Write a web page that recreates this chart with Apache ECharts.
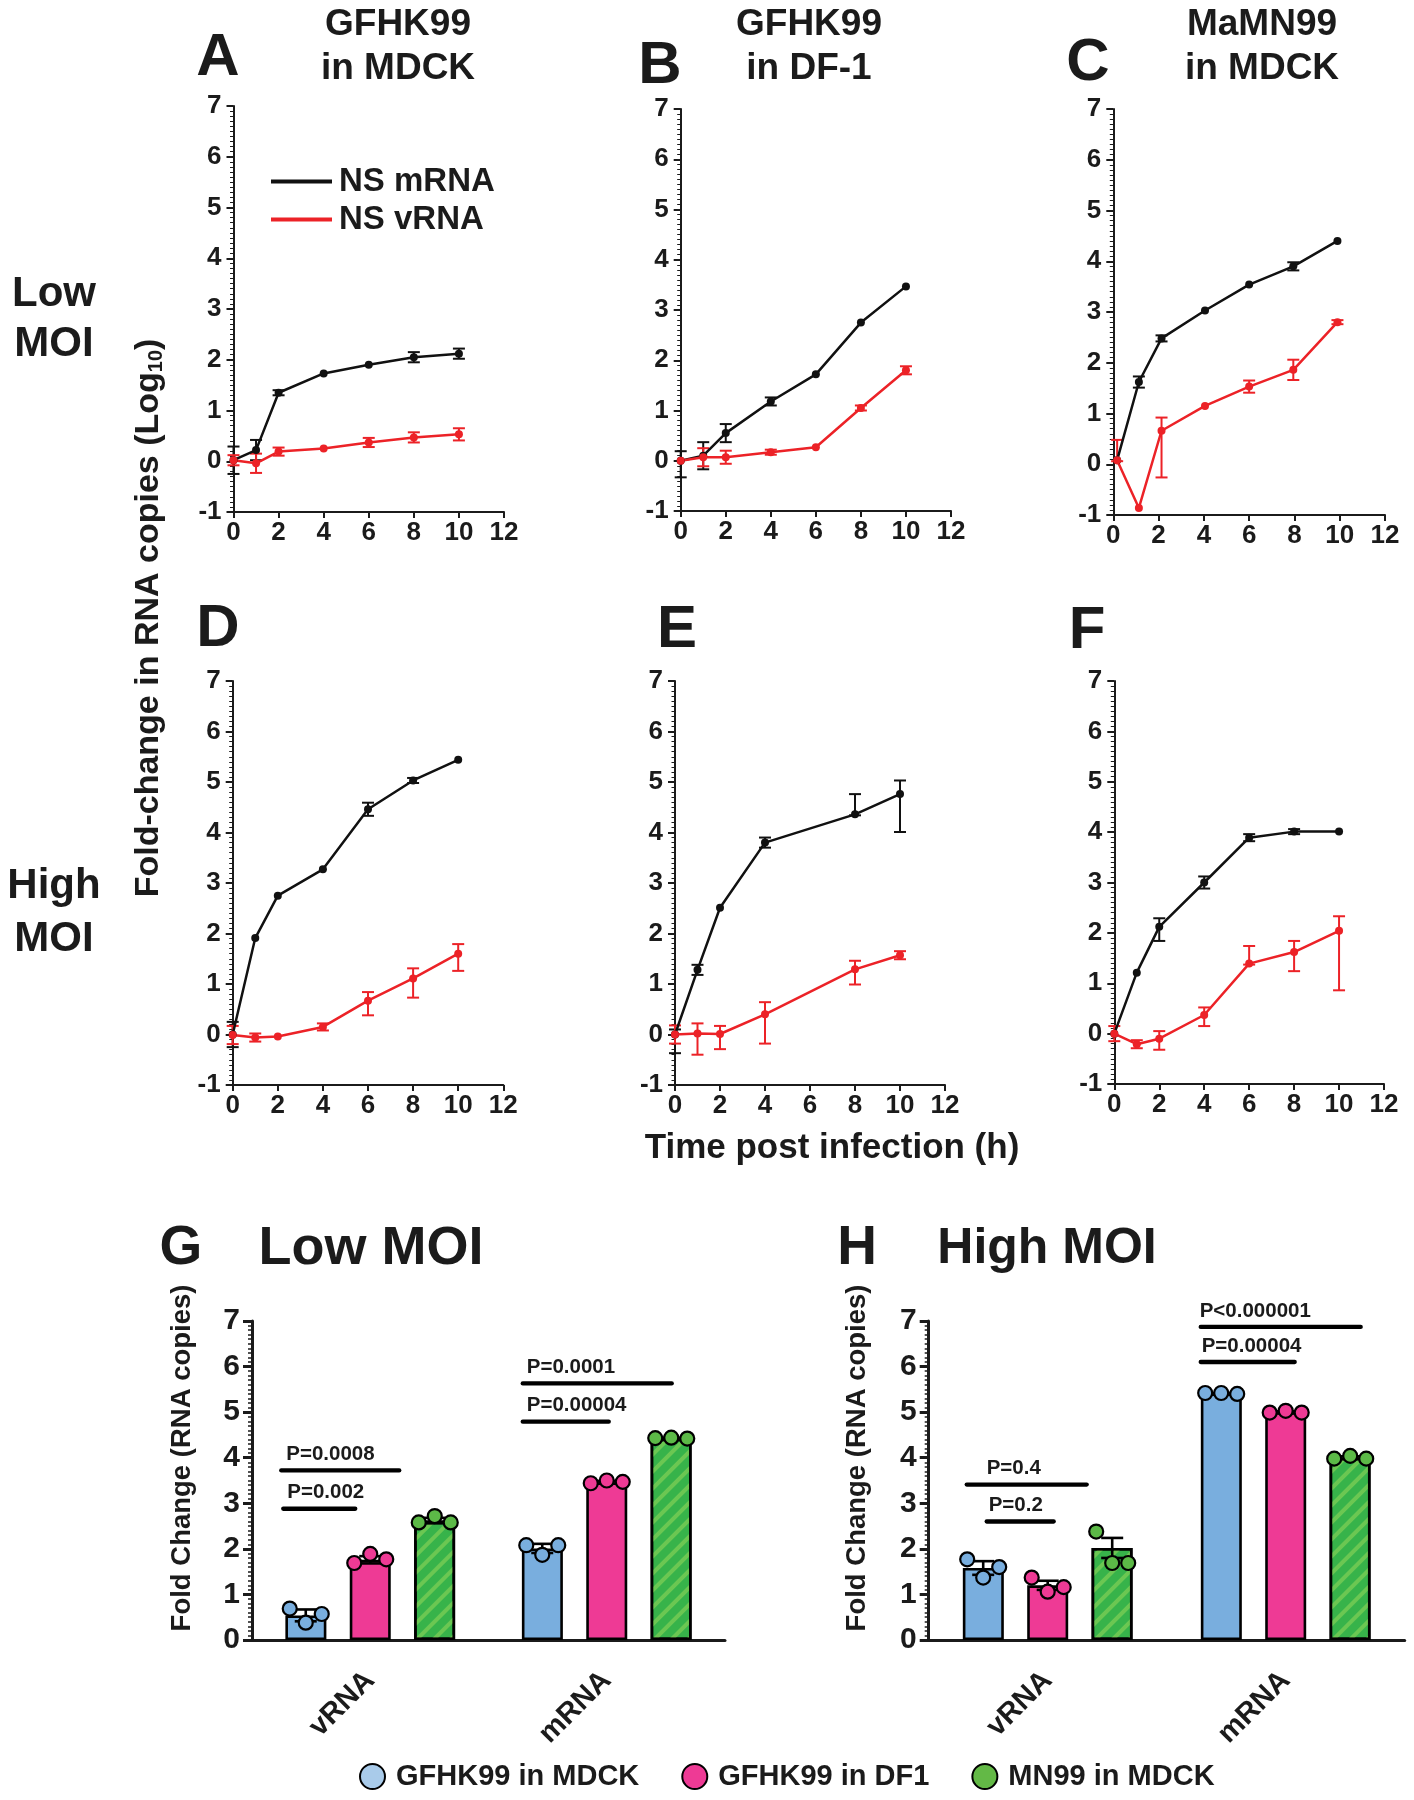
<!DOCTYPE html>
<html>
<head>
<meta charset="utf-8">
<script src="https://cdn.jsdelivr.net/npm/echarts@6/dist/echarts.min.js"></script>
<style>
html, body { margin: 0; background: #fff; }
#main { width: 1414px; height: 1800px; }
</style>
</head>
<body>
<div id="main"></div>
<script>
// hours post infection
var hours = [0, 1, 2, 4, 6, 8, 10];
var hoursC = [0.17, 1.13, 2.13, 4.05, 6, 7.95, 9.9];
var hoursE = [0, 1, 2, 4, 8, 10];

// log10 fold change, error = sd or [down, up]
var aMrna = [0.02, 0.22, 1.35, 1.73, 1.90, 2.05, 2.12];
var aMrnaErr = [0.27, 0.2, 0.05, 0, 0, 0.1, 0.1];
var aVrna = [0.02, -0.04, 0.19, 0.25, 0.37, 0.47, 0.53];
var aVrnaErr = [0.1, 0.19, 0.08, 0, 0.09, 0.1, 0.12];

var bMrna = [0, 0.1, 0.55, 1.18, 1.72, 2.75, 3.47];
var bMrnaErr = [[0.33, 0.19], 0.27, 0.18, 0.08, 0, 0, 0];
var bVrna = [0, 0.07, 0.07, 0.17, 0.27, 1.05, 1.8];
var bVrnaErr = [0, 0.18, 0.13, 0.05, 0, 0.05, 0.08];

var cMrna = [0.08, 1.62, 2.48, 3.03, 3.54, 3.9, 4.4];
var cMrnaErr = [0, 0.11, 0.06, 0, 0, 0.08, 0];
var cVrna = [0.08, -0.86, 0.66, 1.15, 1.53, 1.86, 2.8];
var cVrnaErr = [[0.02, 0.4], 0, [0.92, 0.26], 0, 0.12, 0.2, 0.04];

var dMrna = [0, 1.91, 2.75, 3.27, 4.46, 5.03, 5.44];
var dMrnaErr = [0.25, 0, 0, 0, 0.13, 0.05, 0];
var dVrna = [-0.01, -0.06, -0.04, 0.15, 0.67, 1.11, 1.6];
var dVrnaErr = [0.18, 0.08, 0, 0.07, [0.29, 0.17], [0.38, 0.2], [0.34, 0.19]];

var eMrna = [0, 1.28, 2.51, 3.8, 4.36, 4.76];
var eMrnaErr = [[0.37, 0.1], 0.1, 0, 0.1, [0.02, 0.4], [0.75, 0.27]];
var eVrna = [0, 0.02, 0.01, 0.4, 1.29, 1.57];
var eVrnaErr = [0.18, [0.42, 0.2], [0.3, 0.16], [0.58, 0.24], [0.3, 0.17], 0.08];

var fMrna = [0, 1.21, 2.12, 3.0, 3.89, 4.01, 4.01];
var fMrnaErr = [0, 0, [0.28, 0.17], 0.12, 0.07, 0.05, 0];
var fVrna = [0, -0.21, -0.1, 0.37, 1.39, 1.62, 2.04];
var fVrnaErr = [0.15, 0.08, [0.22, 0.15], [0.22, 0.15], [0.02, 0.35], [0.38, 0.22], [1.18, 0.29]];

// bar panels G (low MOI) and H (high MOI)
var rnaCats = ['vRNA', 'mRNA'];
var strainNames = ['GFHK99 in MDCK', 'GFHK99 in DF1', 'MN99 in MDCK'];

var gMdck = [0.54, 2.01];
var gDf1 = [1.76, 3.46];
var gMn99 = [2.62, 4.42];
var gMdckSd = [0.13, 0.1];
var gDf1Sd = [0.08, 0.03];
var gMn99Sd = [0.06, 0.02];
var gMdckDots = [[0.69, 0.38, 0.57], [2.08, 1.87, 2.08]];
var gDf1Dots = [[1.69, 1.89, 1.77], [3.44, 3.5, 3.47]];
var gMn99Dots = [[2.58, 2.72, 2.58], [4.43, 4.44, 4.42]];

var hMdck = [1.58, 5.41];
var hDf1 = [1.2, 5.0];
var hMn99 = [2.02, 4.0];
var hMdckSd = [0.15, 0.01];
var hDf1Sd = [0.1, 0.02];
var hMn99Sd = [0.22, 0.03];
var hMdckDots = [[1.77, 1.37, 1.6], [5.42, 5.42, 5.4]];
var hDf1Dots = [[1.37, 1.06, 1.16], [4.99, 5.03, 4.99]];
var hMn99Dots = [[2.38, 1.69, 1.69], [3.98, 4.04, 3.98]];

// p-value bars
var gSigText = ['P=0.0008', 'P=0.002', 'P=0.0001', 'P=0.00004'];
var gSigCat = [0, 0, 1, 1];
var gSigY = [3.72, 2.88, 5.63, 4.79];
var hSigText = ['P=0.4', 'P=0.2', 'P<0.000001', 'P=0.00004'];
var hSigCat = [0, 0, 1, 1];
var hSigY = [3.41, 2.6, 6.87, 6.1];

// ---- layout / style ----
var FONT = '"Liberation Sans", Arial, Helvetica, sans-serif';
var INK = '#1b1b1b';
var MRNA_COLOR = '#111111';
var VRNA_COLOR = '#ec2227';
var BAR_COLORS = ['#79aede', '#ee3a95', '#37b34a'];
var DOT_COLORS = ['#79aede', '#ee3a95', '#5cb947'];
var LEGEND_COLORS = ['#a9cbea', '#ee3a95', '#63b946'];
var dotJitter = [-16, 0, 16];
// pixel spans of the p-value lines relative to category centre, text shift
var gSigSpan = [[-89, 29], [-87, -15], [-84, 65], [-84, 2]];
var gSigDx = [5, 4, 4, 4];
var hSigSpan = [[-81, 39], [-61, 6], [-85, 75], [-85, 9]];
var hSigDx = [20, 2, -1, 1];

var lineGrids = [
  { left: 233.5, top: 106, width: 270.5, height: 406 },
  { left: 680.7, top: 109, width: 270.3, height: 402 },
  { left: 1113.3, top: 109, width: 271.7, height: 406 },
  { left: 232.7, top: 681, width: 270.6, height: 404 },
  { left: 675, top: 681, width: 270, height: 404 },
  { left: 1114.3, top: 681, width: 269.7, height: 403 }
];
var barGrids = [
  { left: 252, top: 1321, width: 473, height: 319 },
  { left: 928.7, top: 1321, width: 476, height: 319 }
];

var linePanels = [
  [hours, aMrna, aMrnaErr, aVrna, aVrnaErr],
  [hours, bMrna, bMrnaErr, bVrna, bVrnaErr],
  [hoursC, cMrna, cMrnaErr, cVrna, cVrnaErr],
  [hours, dMrna, dMrnaErr, dVrna, dVrnaErr],
  [hoursE, eMrna, eMrnaErr, eVrna, eVrnaErr],
  [hours, fMrna, fMrnaErr, fVrna, fVrnaErr]
];

function errRows(times, vals, errs) {
  var out = [];
  for (var i = 0; i < vals.length; i++) {
    var e = errs[i];
    var dn = Array.isArray(e) ? e[0] : e;
    var up = Array.isArray(e) ? e[1] : e;
    if (dn + up < 0.05) continue;
    out.push([times[i], vals[i], dn, up]);
  }
  return out;
}

function pairs(times, vals) {
  return vals.map(function (v, i) { return [times[i], v]; });
}

function renderErr(params, api) {
  var t = api.value(0), v = api.value(1);
  var lo = api.coord([t, v - api.value(2)]);
  var hi = api.coord([t, v + api.value(3)]);
  var w = 6;
  var st = { stroke: api.visual('color'), lineWidth: 2 };
  return {
    type: 'group',
    children: [
      { type: 'line', shape: { x1: lo[0], y1: lo[1], x2: hi[0], y2: hi[1] }, style: st },
      { type: 'line', shape: { x1: hi[0] - w, y1: hi[1], x2: hi[0] + w, y2: hi[1] }, style: st },
      { type: 'line', shape: { x1: lo[0] - w, y1: lo[1], x2: lo[0] + w, y2: lo[1] }, style: st }
    ]
  };
}

var grids = [], xAxes = [], yAxes = [], series = [];

linePanels.forEach(function (p, i) {
  grids.push(lineGrids[i]);
  xAxes.push({
    type: 'value', gridIndex: i, min: 0, max: 12, interval: 2,
    axisLine: { onZero: false, lineStyle: { color: INK, width: 2 } },
    axisTick: { length: 6, lineStyle: { color: INK, width: 2 } },
    axisLabel: { color: INK, fontFamily: FONT, fontWeight: 'bold', fontSize: 26, margin: 8 },
    splitLine: { show: false }
  });
  yAxes.push({
    type: 'value', gridIndex: i, min: -1, max: 7, interval: 1,
    axisLine: { show: true, lineStyle: { color: INK, width: 2 } },
    axisTick: { show: true, length: 7, lineStyle: { color: INK, width: 2 } },
    minorTick: { show: true, splitNumber: 10, length: 3.5, lineStyle: { color: INK, width: 1 } },
    axisLabel: { color: INK, fontFamily: FONT, fontWeight: 'bold', fontSize: 26, margin: 12 },
    splitLine: { show: false }
  });
  var defs = [['NS mRNA', p[1], p[2], MRNA_COLOR], ['NS vRNA', p[3], p[4], VRNA_COLOR]];
  defs.forEach(function (d) {
    series.push({
      type: 'custom', xAxisIndex: i, yAxisIndex: i,
      renderItem: renderErr, itemStyle: { color: d[3] },
      encode: { x: 0, y: 1 },
      data: errRows(p[0], d[1], d[2]), z: 3
    });
    series.push({
      type: 'line', name: d[0], xAxisIndex: i, yAxisIndex: i,
      data: pairs(p[0], d[1]),
      symbol: 'circle', symbolSize: 8, showSymbol: true,
      itemStyle: { color: d[3] },
      lineStyle: { color: d[3], width: 2.5 },
      z: 4
    });
  });
});

// bar panels
function makeDotRender(spacing) {
  return function (params, api) {
    var c = api.coord([api.value(0), api.value(1)]);
    var g = api.value(2), k = api.value(3);
    return {
      type: 'circle',
      shape: { cx: c[0] + (g - 1) * spacing + dotJitter[k], cy: c[1], r: 7 },
      style: { fill: DOT_COLORS[g], stroke: '#000', lineWidth: 2.2 }
    };
  };
}
function makeBarErrRender(spacing) {
  return function (params, api) {
    var g = api.value(2);
    var lo = api.coord([api.value(0), api.value(1) - api.value(3)]);
    var hi = api.coord([api.value(0), api.value(1) + api.value(3)]);
    var x = lo[0] + (g - 1) * spacing, w = 11;
    var st = { stroke: '#000', lineWidth: 2.6 };
    return {
      type: 'group',
      children: [
        { type: 'line', shape: { x1: x, y1: lo[1], x2: x, y2: hi[1] }, style: st },
        { type: 'line', shape: { x1: x - w, y1: hi[1], x2: x + w, y2: hi[1] }, style: st },
        { type: 'line', shape: { x1: x - w, y1: lo[1], x2: x + w, y2: lo[1] }, style: st }
      ]
    };
  };
}
function makeSigRender(spans, dx, texts) {
  return function (params, api) {
    var i = params.dataIndex;
    var c = api.coord([api.value(0), api.value(1)]);
    var x1 = c[0] + spans[i][0], x2 = c[0] + spans[i][1];
    return {
      type: 'group',
      children: [
        { type: 'line', shape: { x1: x1, y1: c[1], x2: x2, y2: c[1] },
          style: { stroke: '#000', lineWidth: 4.3, lineCap: 'round' } },
        { type: 'text',
          style: { x: x1 + dx[i], y: c[1] - 16, text: texts[i], font: 'bold 20.5px ' + FONT, fill: INK,
                   align: 'left', verticalAlign: 'middle', textAlign: 'left', textVerticalAlign: 'middle' } }
      ]
    };
  };
}

var barSets = [
  { means: [gMdck, gDf1, gMn99], sds: [gMdckSd, gDf1Sd, gMn99Sd], dots: [gMdckDots, gDf1Dots, gMn99Dots],
    sigText: gSigText, sigCat: gSigCat, sigY: gSigY, sigSpan: gSigSpan, sigDx: gSigDx },
  { means: [hMdck, hDf1, hMn99], sds: [hMdckSd, hDf1Sd, hMn99Sd], dots: [hMdckDots, hDf1Dots, hMn99Dots],
    sigText: hSigText, sigCat: hSigCat, sigY: hSigY, sigSpan: hSigSpan, sigDx: hSigDx }
];
var BAR_W = 41, BAR_SPACING = 64.5;

barSets.forEach(function (b, j) {
  var gi = 6 + j;
  grids.push(barGrids[j]);
  xAxes.push({
    type: 'category', gridIndex: gi, data: rnaCats,
    axisLine: { lineStyle: { color: INK, width: 3 } },
    axisTick: { alignWithLabel: true, length: 11, lineStyle: { color: INK, width: 3 } },
    axisLabel: { color: INK, fontFamily: FONT, fontWeight: 'bold', fontSize: 29, rotate: 45, margin: 36 }
  });
  yAxes.push({
    type: 'value', gridIndex: gi, min: 0, max: 7, interval: 1,
    axisLine: { show: true, lineStyle: { color: INK, width: 3 } },
    axisTick: { show: true, length: 9, lineStyle: { color: INK, width: 3 } },
    minorTick: { show: true, splitNumber: 10, length: 4, lineStyle: { color: INK, width: 1.5 } },
    axisLabel: { color: INK, fontFamily: FONT, fontWeight: 'bold', fontSize: 30, margin: 12 },
    splitLine: { show: false }
  });
  var gapPct = Math.round((BAR_SPACING - BAR_W) / BAR_W * 100) + '%';
  b.means.forEach(function (m, g) {
    var st = { color: BAR_COLORS[g], borderColor: '#000', borderWidth: 2.6 };
    if (g === 2) {
      st.decal = { symbol: 'rect', symbolSize: 1, dashArrayX: [1, 0], dashArrayY: [4, 8],
                   rotation: -Math.PI / 4, color: 'rgba(150, 215, 90, 0.55)' };
    }
    series.push({
      type: 'bar', name: strainNames[g], xAxisIndex: gi, yAxisIndex: gi,
      data: m, barWidth: BAR_W, barGap: gapPct, itemStyle: st, z: 2
    });
  });
  var errData = [], dotData = [];
  b.means.forEach(function (m, g) {
    m.forEach(function (v, c) {
      errData.push([c, v, g, b.sds[g][c]]);
      b.dots[g][c].forEach(function (dv, k) { dotData.push([c, dv, g, k]); });
    });
  });
  series.push({ type: 'custom', xAxisIndex: gi, yAxisIndex: gi, renderItem: makeBarErrRender(BAR_SPACING),
                encode: { x: 0, y: 1 }, data: errData, z: 5 });
  series.push({ type: 'custom', xAxisIndex: gi, yAxisIndex: gi, renderItem: makeDotRender(BAR_SPACING),
                encode: { x: 0, y: 1 }, data: dotData, z: 6 });
  series.push({ type: 'custom', xAxisIndex: gi, yAxisIndex: gi,
                renderItem: makeSigRender(b.sigSpan, b.sigDx, b.sigText),
                encode: { x: 0, y: 1 },
                data: b.sigY.map(function (y, k) { return [b.sigCat[k], y]; }), z: 6 });
});

function txt(s, x, y, size, rot) {
  return {
    type: 'text', x: x, y: y, rotation: rot || 0,
    style: { text: s, font: 'bold ' + size + 'px ' + FONT, fill: INK,
             align: 'center', verticalAlign: 'middle', textAlign: 'center', textVerticalAlign: 'middle' }
  };
}

var graphics = [
  txt('GFHK99', 398, 25, 37), txt('in MDCK', 398, 69, 37),
  txt('GFHK99', 809, 25, 37), txt('in DF-1', 809, 69, 37),
  txt('MaMN99', 1262, 25, 37), txt('in MDCK', 1262, 69, 37),
  txt('A', 218, 58, 60), txt('B', 660, 66, 60), txt('C', 1088, 63, 60),
  txt('D', 218, 629, 60), txt('E', 677, 630, 60), txt('F', 1087, 631, 60),
  txt('G', 181, 1249, 55), txt('H', 857, 1249, 55),
  txt('Low MOI', 371, 1249, 54), txt('High MOI', 1047, 1249, 50),
  txt('Low', 54, 294, 42), txt('MOI', 54, 344, 42),
  txt('High', 54, 886, 42), txt('MOI', 54, 939, 42),
  txt('Time post infection (h)', 832, 1148, 35),
  txt('Fold Change (RNA copies)', 182, 1458, 27.5, Math.PI / 2),
  txt('Fold Change (RNA copies)', 857, 1458, 27.5, Math.PI / 2),
  {
    type: 'text', x: 149, y: 618, rotation: Math.PI / 2,
    style: {
      text: '{a|Fold-change in RNA copies (Log}{s|10}{a|)}',
      align: 'center', verticalAlign: 'middle', textAlign: 'center', textVerticalAlign: 'middle',
      fill: INK,
      rich: {
        a: { fontFamily: FONT, fontWeight: 'bold', fontSize: 34, color: INK },
        s: { fontFamily: FONT, fontWeight: 'bold', fontSize: 20, color: INK, padding: [15, 0, 0, 0] }
      }
    }
  }
];

var chart = echarts.init(document.getElementById('main'), null, { renderer: 'canvas' });
chart.setOption({
  animation: false,
  backgroundColor: '#ffffff',
  grid: grids,
  xAxis: xAxes,
  yAxis: yAxes,
  legend: [
    {
      data: ['NS mRNA', 'NS vRNA'], orient: 'vertical', left: 266, top: 160,
      icon: 'rect', itemWidth: 61, itemHeight: 4, itemGap: 5,
      selectedMode: false,
      textStyle: { fontFamily: FONT, fontWeight: 'bold', fontSize: 33, color: INK, padding: [0, 0, 0, 2] }
    },
    {
      data: strainNames.map(function (n, g) {
        return { name: n, icon: 'circle',
                 itemStyle: { color: LEGEND_COLORS[g], borderColor: '#000', borderWidth: 2, decal: 'none' } };
      }),
      orient: 'horizontal', left: 354, top: 1757,
      itemWidth: 25, itemHeight: 25, itemGap: 42, selectedMode: false,
      textStyle: { fontFamily: FONT, fontWeight: 'bold', fontSize: 29, color: INK, padding: [0, 0, 0, 6] }
    }
  ],
  graphic: graphics,
  series: series
});
</script>
</body>
</html>
